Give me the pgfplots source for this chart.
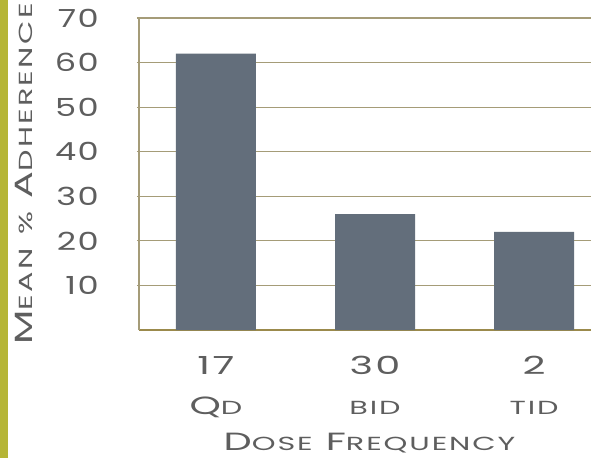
\documentclass[border=0pt]{standalone}
\usepackage{pgfplots}
\pgfplotsset{compat=1.18}
\usepackage{fontspec}
\setmainfont{Poppins}[FakeStretch=1.6, LetterSpace=10]
\newfontfamily\numfont{Poppins}[FakeStretch=1.35, LetterSpace=6]
\newfontfamily\ylfont{Poppins}[FakeStretch=1.6, LetterSpace=12]
\definecolor{barcol}{HTML}{636E7B}
\definecolor{gridcol}{HTML}{A59C78}
\definecolor{basecol}{HTML}{9B8A4C}
\definecolor{olivebar}{HTML}{B5B537}
\definecolor{txt}{HTML}{5E5E5E}
\newcommand{\lbl}{\fontsize{25}{40}\selectfont}
\newcommand{\sm}[1]{{\fontsize{19}{40}\selectfont #1}}

\begin{document}
\begin{tikzpicture}
\begin{axis}[
    scale only axis,
    width=452bp, height=312bp,
    ybar, bar width=80bp,
    xmin=-0.484, xmax=2.358,
    ymin=0, ymax=70,
    ytick={10,20,...,70},
    xtick={0,1,2},
    xticklabels={{17\\Q\sm{D}},{30\\\sm{BID}},{2\\\sm{TID}}},
    axis x line*=bottom,
    axis y line*=left,
    x axis line style={draw=basecol, line width=1.2bp, -},
    y axis line style={draw=gridcol, line width=1.2bp, -},
    ymajorgrids,
    grid style={draw=gridcol, line width=1.2bp},
    major x tick style={draw=none},
    major y tick style={draw=gridcol, line width=1.2bp},
    tick align=outside,
    major tick length=2bp,
    yticklabel style={font=\numfont\lbl, text=txt, anchor=east, inner sep=0pt, xshift=-38bp},
    xticklabel style={font=\lbl, text=txt, align=center, inner sep=0pt, yshift=-24bp},
    /pgf/number format/assume math mode=true,
    xlabel={D\sm{OSE} F\sm{REQUENCY}},
    ylabel={M\sm{EAN} \sm{\%} A\sm{DHERENCE}},
    xlabel style={font=\lbl, text=txt, at={(axis description cs:0.51,0)}, anchor=center, yshift=-113bp},
    ylabel style={font=\ylfont\lbl, text=txt, at={(axis description cs:0,0.5)}, anchor=center, yshift=115bp},
    clip=false,
]
\addplot[fill=barcol, draw=none] coordinates {(0,62) (1,26) (2,22)};
\end{axis}
\fill[olivebar] (-139bp,-128bp) rectangle (-131bp,330bp);
\pgfresetboundingbox
\path (-139bp,-128bp) rectangle (452bp,330bp);
\end{tikzpicture}
\end{document}
